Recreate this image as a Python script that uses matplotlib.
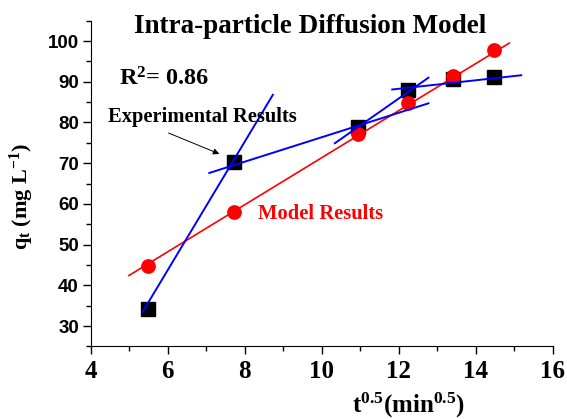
import matplotlib
matplotlib.use("Agg")
import matplotlib.pyplot as plt
from matplotlib.ticker import MultipleLocator

plt.rcParams["mathtext.fontset"] = "custom"
plt.rcParams["mathtext.rm"] = "Liberation Serif:bold"
plt.rcParams["mathtext.it"] = "Liberation Serif:bold"
plt.rcParams["mathtext.bf"] = "Liberation Serif:bold"

# data
t_half = [5.48, 7.72, 10.93, 12.23, 13.41, 14.46]
q_exp = [34.3, 70.3, 78.9, 88.1, 90.6, 91.2]
q_model = [44.7, 58.0, 77.1, 84.8, 91.4, 97.8]

# fitted segments (x ends, y ends)
red_fit_x = [4.99, 14.87]
red_fit_y = [42.4, 99.5]
blue_fits_x = [[5.35, 8.73], [7.08, 12.77], [10.34, 12.77], [11.83, 15.18]]
blue_fits_y = [[33.5, 86.8], [67.6, 84.7], [74.9, 91.0], [88.1, 91.6]]

fig = plt.figure(figsize=(5.67, 4.19), dpi=100)
ax = fig.add_axes([0.160, 0.1733, 0.815, 0.7773])

ax.plot(t_half, q_exp, "s", color="black", markersize=9.4, zorder=3)
ax.plot(t_half, q_model, "o", color="red", markersize=9.6, zorder=4)
ax.plot(red_fit_x, red_fit_y, color="red", lw=1.2, zorder=4)
for bx, by in zip(blue_fits_x, blue_fits_y):
    ax.plot(bx, by, color="blue", lw=1.4, zorder=5)

ax.set_xlim(4, 16)
ax.set_ylim(25, 105)
ax.xaxis.set_major_locator(MultipleLocator(2))
ax.xaxis.set_minor_locator(MultipleLocator(1))
ax.yaxis.set_major_locator(MultipleLocator(10))
ax.yaxis.set_minor_locator(MultipleLocator(5))
ax.set_yticks(range(30, 101, 10))
ax.spines["top"].set_visible(False)
ax.spines["right"].set_visible(False)
ax.tick_params(which="major", length=5.5, width=1, direction="out")
ax.tick_params(which="minor", length=3.5, width=1, direction="out")
ax.tick_params(axis="x", pad=4)
ax.tick_params(axis="y", pad=3)

for lab in ax.get_xticklabels():
    lab.set_fontfamily("Liberation Serif")
    lab.set_fontweight("bold")
    lab.set_fontsize(18)
for lab in ax.get_yticklabels():
    lab.set_fontfamily("Liberation Sans")
    lab.set_fontweight("bold")
    lab.set_fontsize(13.5)

serif = dict(family="Liberation Serif", weight="bold")
fig.text(0.547, 0.9205, "Intra-particle Diffusion Model", ha="center", va="baseline", fontsize=19.5, **serif)
fig.text(0.210, 0.795, "R$^2$= 0.86", ha="left", va="baseline", fontsize=17.5, **serif)
fig.text(0.190, 0.7096, "Experimental Results", ha="left", va="baseline", fontsize=14.8, **serif)
fig.text(0.455, 0.4773, "Model Results", ha="left", va="baseline", fontsize=14.8, color="red", **serif)
fig.text(0.720, 0.015, "t$^{0.5}$(min$^{0.5}$)", ha="center", va="baseline", fontsize=18, **serif)
fig.text(0.039, 0.532, "q$_t$ (mg L$^{-1}$)", ha="center", va="center", rotation=90, fontsize=16, **serif)

ax.annotate("", xy=(0.3915, 0.6301), xytext=(0.2928, 0.6850),
            xycoords="figure fraction", textcoords="figure fraction",
            arrowprops=dict(arrowstyle="-|>", color="black", lw=0.7, mutation_scale=9))

fig.savefig("out.png", dpi=100)
